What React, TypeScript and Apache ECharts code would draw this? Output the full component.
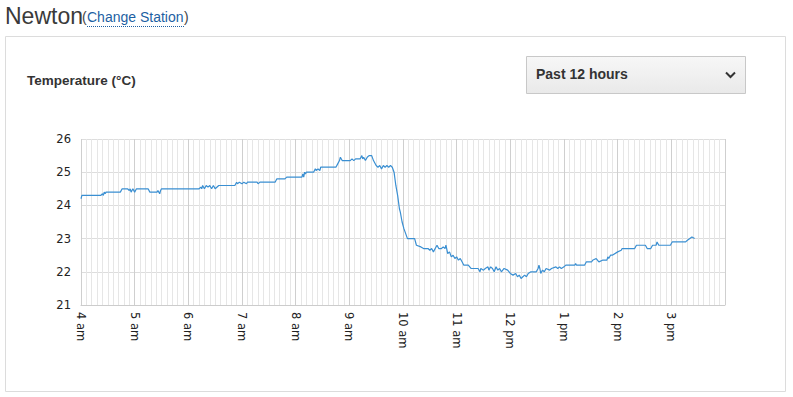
import React, { useEffect, useRef } from "react";
import * as echarts from "echarts";

// Reading times (24h clock) and temperatures (°C)
const times: string[] = [
  "4:00", "4:01", "4:22", "4:24", "4:25", "4:26", "4:27", "4:28", "4:44", "4:46",
  "4:52", "4:54", "4:55", "4:56", "4:58", "5:00", "5:02", "5:15", "5:17", "5:25",
  "5:26", "5:27", "5:28", "5:29", "5:30", "6:12", "6:14", "6:15", "6:16", "6:18",
  "6:20", "6:22", "6:24", "6:26", "6:28", "6:30", "6:34", "6:52", "6:54", "6:55",
  "6:57", "7:00", "7:02", "7:05", "7:06", "7:17", "7:18", "7:20", "7:37", "7:39",
  "7:48", "7:50", "8:07", "8:08", "8:09", "8:10", "8:11", "8:12", "8:20", "8:22",
  "8:23", "8:25", "8:27", "8:28", "8:45", "8:47", "8:49", "8:50", "8:52", "9:01",
  "9:03", "9:05", "9:07", "9:12", "9:14", "9:15", "9:16", "9:18", "9:20", "9:22",
  "9:25", "9:27", "9:30", "9:32", "9:34", "9:36", "9:38", "9:40", "9:42", "9:44",
  "9:46", "9:48", "9:50", "9:52", "9:54", "9:56", "9:57", "9:59", "10:01", "10:03",
  "10:05", "10:13", "10:15", "10:20", "10:23", "10:28", "10:30", "10:32", "10:34", "10:36",
  "10:38", "10:40", "10:43", "10:45", "10:47", "10:48", "10:50", "10:52", "10:54", "10:56",
  "10:58", "11:00", "11:02", "11:04", "11:06", "11:08", "11:13", "11:16", "11:24", "11:26",
  "11:27", "11:30", "11:32", "11:35", "11:36", "11:38", "11:40", "11:42", "11:44", "11:46",
  "11:48", "11:50", "11:53", "11:57", "12:00", "12:03", "12:06", "12:08", "12:10", "12:12",
  "12:14", "12:16", "12:18", "12:20", "12:23", "12:29", "12:31", "12:32", "12:33", "12:34",
  "12:36", "12:38", "12:40", "12:44", "12:46", "12:51", "12:53", "12:55", "12:57", "13:00",
  "13:02", "13:12", "13:13", "13:14", "13:23", "13:25", "13:31", "13:32", "13:36", "13:39",
  "13:43", "13:48", "13:49", "13:50", "13:52", "13:54", "14:00", "14:04", "14:05", "14:19",
  "14:21", "14:31", "14:33", "14:37", "14:39", "14:43", "14:44", "14:46", "14:59", "15:00",
  "15:01", "15:16", "15:18", "15:23", "15:26",
];

const temps: number[] = [
  24.2, 24.3, 24.3, 24.35, 24.3, 24.4, 24.35, 24.4, 24.4, 24.5,
  24.5, 24.45, 24.5, 24.4, 24.5, 24.4, 24.5, 24.5, 24.4, 24.4,
  24.45, 24.4, 24.35, 24.45, 24.5, 24.5, 24.55, 24.5, 24.6, 24.5,
  24.6, 24.55, 24.6, 24.5, 24.6, 24.5, 24.6, 24.6, 24.7, 24.65,
  24.7, 24.65, 24.7, 24.65, 24.7, 24.7, 24.65, 24.7, 24.7, 24.8,
  24.8, 24.85, 24.85, 24.95, 24.85, 25.0, 24.95, 25.0, 25.0, 25.1,
  25.05, 25.1, 25.05, 25.15, 25.15, 25.25, 25.35, 25.45, 25.35, 25.35,
  25.4, 25.35, 25.4, 25.4, 25.5, 25.4, 25.45, 25.35, 25.45, 25.5,
  25.5, 25.35, 25.2, 25.15, 25.2, 25.1, 25.2, 25.15, 25.2, 25.15,
  25.2, 25.15, 25.0, 24.6, 24.3, 23.9, 23.8, 23.5, 23.3, 23.15,
  23.0, 23.0, 22.8, 22.75, 22.7, 22.7, 22.65, 22.7, 22.6, 22.7,
  22.8, 22.7, 22.7, 22.75, 22.7, 22.8, 22.55, 22.6, 22.45, 22.5,
  22.4, 22.45, 22.35, 22.4, 22.3, 22.2, 22.2, 22.1, 22.1, 22.0,
  22.1, 22.05, 22.1, 22.15, 22.05, 22.15, 22.1, 22.0, 22.15, 22.05,
  22.1, 22.0, 22.1, 22.05, 21.95, 21.9, 21.95, 21.85, 21.9, 21.8,
  21.85, 21.9, 21.85, 21.95, 22.0, 22.0, 22.1, 22.2, 22.1, 21.95,
  22.05, 22.0, 22.1, 22.05, 22.1, 22.15, 22.1, 22.15, 22.1, 22.15,
  22.2, 22.2, 22.25, 22.2, 22.2, 22.3, 22.3, 22.35, 22.4, 22.3,
  22.35, 22.35, 22.45, 22.4, 22.5, 22.5, 22.6, 22.65, 22.7, 22.7,
  22.8, 22.8, 22.7, 22.7, 22.8, 22.8, 22.9, 22.8, 22.8, 22.85,
  22.9, 22.9, 22.95, 23.05, 23.0,
];

const hourTicks: number[] = [4, 5, 6, 7, 8, 9, 10, 11, 12, 13, 14, 15, 16];
const hourLabels: string[] = [
  "4 am", "5 am", "6 am", "7 am", "8 am", "9 am", "10 am",
  "11 am", "12 pm", "1 pm", "2 pm", "3 pm", "",
];

const stationName = "Newton";
const axisTitle = "Temperature (°C)";
const rangeLabel = "Past 12 hours";

function toHours(t: string): number {
  const [h, m] = t.split(":").map(Number);
  return h + m / 60;
}

export default function App() {
  const ref = useRef<HTMLDivElement>(null);

  useEffect(() => {
    if (!ref.current) return;
    const chart = echarts.init(ref.current, null, { renderer: "svg" });
    const data = times.map((t, i) => [toHours(t), temps[i]]);

    chart.setOption({
      animation: false,
      backgroundColor: "#ffffff",
      grid: { left: 81, right: 68, top: 139, bottom: 92, containLabel: false },
      xAxis: {
        type: "value",
        min: 4,
        max: 16,
        interval: 1,
        axisLine: { show: true, lineStyle: { color: "#cccccc", width: 1 } },
        axisTick: { show: false },
        minorTick: { show: false, splitNumber: 10 },
        splitLine: { show: true, lineStyle: { color: "#cfcfcf", width: 1 } },
        minorSplitLine: { show: true, lineStyle: { color: "#e6e6e6", width: 1 } },
        axisLabel: {
          rotate: -90,
          margin: 7,
          color: "#222222",
          fontFamily: "DejaVu Sans",
          fontSize: 11.5,
          formatter: (v: number) => {
            const idx = hourTicks.indexOf(Math.round(v));
            return idx >= 0 ? hourLabels[idx] : "";
          },
        },
      },
      yAxis: {
        type: "value",
        min: 21,
        max: 26,
        interval: 1,
        axisLine: { show: false },
        axisTick: { show: false },
        splitLine: { show: true, lineStyle: { color: "#dddddd", width: 1 } },
        axisLabel: {
          margin: 10,
          color: "#222222",
          fontFamily: "DejaVu Sans",
          fontSize: 11.5,
        },
      },
      series: [
        {
          type: "line",
          data,
          showSymbol: false,
          symbol: "none",
          lineStyle: { color: "#3a8fd2", width: 1.2 },
          silent: true,
        },
      ],
      graphic: [
        {
          type: "rect",
          z: -10,
          silent: true,
          shape: { x: 5.5, y: 36.5, width: 780, height: 355 },
          style: { fill: "none", stroke: "#dcdcdc", lineWidth: 1 },
        },
        {
          type: "text",
          left: 5,
          top: 4,
          style: {
            text: stationName,
            font: "23px 'Liberation Sans', Arial, sans-serif",
            fill: "#3a3a3a",
          },
        },
        {
          type: "text",
          x: 82,
          y: 10,
          style: {
            text: "(",
            font: "14px 'Liberation Sans', Arial, sans-serif",
            fill: "#444444",
          },
        },
        {
          type: "text",
          x: 87,
          y: 10,
          style: {
            text: "Change Station",
            font: "14px 'Liberation Sans', Arial, sans-serif",
            fill: "#1d5fa3",
          },
        },
        {
          type: "text",
          x: 184,
          y: 10,
          style: {
            text: ")",
            font: "14px 'Liberation Sans', Arial, sans-serif",
            fill: "#444444",
          },
        },
        {
          type: "line",
          shape: { x1: 87, y1: 26.5, x2: 184, y2: 26.5 },
          style: { stroke: "#1d5fa3", lineWidth: 1, lineDash: [1, 1] },
        },
        {
          type: "text",
          x: 27,
          y: 73,
          style: {
            text: axisTitle,
            font: "bold 13.5px 'Liberation Sans', Arial, sans-serif",
            fill: "#333333",
          },
        },
        {
          type: "rect",
          shape: { x: 526.5, y: 56.5, width: 219, height: 37 },
          style: {
            fill: new echarts.graphic.LinearGradient(0, 0, 0, 1, [
              { offset: 0, color: "#f7f7f7" },
              { offset: 1, color: "#e9e9e9" },
            ]),
            stroke: "#c8c8c8",
            lineWidth: 1,
          },
        },
        {
          type: "text",
          x: 536,
          y: 67,
          style: {
            text: rangeLabel,
            font: "bold 14px 'Liberation Sans', Arial, sans-serif",
            fill: "#333333",
          },
        },
        {
          type: "polyline",
          shape: { points: [[726, 72.5], [730.5, 77], [735, 72.5]] },
          style: { stroke: "#333333", lineWidth: 2, fill: "none" },
        },
      ],
    });

    return () => chart.dispose();
  }, []);

  return (
    <div
      ref={ref}
      style={{ position: "absolute", left: 0, top: 0, width: 793, height: 397 }}
    />
  );
}
